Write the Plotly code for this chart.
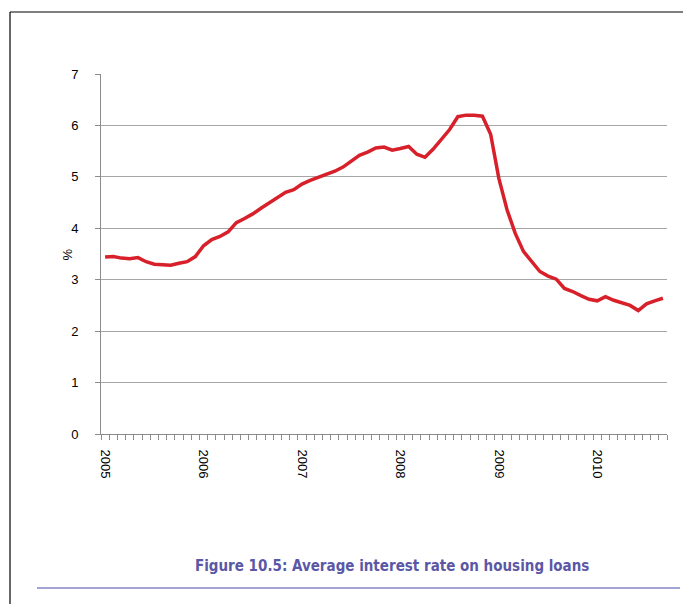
import plotly.graph_objects as go

# monthly average interest rate on housing loans, Jan 2005 - Sep 2010 (%)
months = list(range(69))
rates = [
    3.44, 3.45, 3.42, 3.41, 3.43, 3.35, 3.30, 3.29, 3.28, 3.32, 3.35, 3.45,
    3.66, 3.78, 3.84, 3.93, 4.11, 4.19, 4.28, 4.39, 4.49, 4.60, 4.70, 4.75,
    4.86, 4.93, 4.99, 5.05, 5.11, 5.19, 5.30, 5.42, 5.48, 5.56, 5.58, 5.52,
    5.55, 5.59, 5.44, 5.38, 5.54, 5.72, 5.92, 6.17, 6.20, 6.20, 6.18, 5.83,
    4.97, 4.36, 3.90, 3.55, 3.35, 3.16, 3.07, 3.01, 2.83, 2.77, 2.69, 2.62,
    2.59, 2.67, 2.60, 2.55, 2.50, 2.40, 2.53, 2.59, 2.64,
]
year_pos = [0, 12, 24, 36, 48, 60]
year_labels = ["2005", "2006", "2007", "2008", "2009", "2010"]

# the page puts the figure 8px in from the top-left corner
OFF = 8
W, H = 691 - OFF, 604 - OFF
L, R, T, B = 101 - OFF, 24, 74 - OFF, 170
pw, ph = W - L - R, H - T - B


def px(x):
    # x in window pixels -> paper coordinate
    return (x - OFF - L) / pw


def py(y):
    return (H - B - (y - OFF)) / ph


fig = go.Figure()
fig.add_trace(go.Scatter(
    x=months, y=rates, mode="lines",
    line=dict(color="#d7202a", width=3.5),
    showlegend=False, hoverinfo="skip",
))

fig.update_xaxes(
    range=[-0.5, 68.5],
    tickmode="array", tickvals=year_pos, ticktext=year_labels,
    tickangle=90, ticks="", showgrid=False,
    showline=True, linecolor="#8c8c8c", linewidth=1,
    minor=dict(tickmode="linear", tick0=-0.5, dtick=1, ticks="outside",
               ticklen=5, tickcolor="#8c8c8c", showgrid=False),
    tickfont=dict(family="Liberation Sans, Arial", size=13, color="#000000"),
    ticklabelstandoff=12,
    zeroline=False,
)
fig.update_yaxes(
    range=[0, 7], dtick=1,
    showgrid=True, gridcolor="#a6a6a6", gridwidth=1.2,
    showline=True, linecolor="#8c8c8c", linewidth=1,
    ticks="outside", ticklen=5, tickcolor="#8c8c8c",
    tickfont=dict(family="Liberation Sans, Arial", size=13, color="#000000"),
    ticklabelstandoff=14,
    zeroline=False,
)

shapes = [
    # page frame
    dict(type="line", xref="paper", yref="paper", x0=px(10), x1=px(700),
         y0=py(12), y1=py(12), line=dict(color="#000000", width=1.2)),
    dict(type="line", xref="paper", yref="paper", x0=px(10), x1=px(10),
         y0=py(12), y1=py(610), line=dict(color="#000000", width=1.2)),
    # rule under caption
    dict(type="line", xref="paper", yref="paper", x0=px(37), x1=px(680),
         y0=py(588), y1=py(588), line=dict(color="#8585c8", width=1.5)),
]

annotations = [
    dict(text="%", xref="paper", yref="paper", x=px(57), y=py(255),
         showarrow=False, textangle=-90,
         font=dict(family="Liberation Sans, Arial", size=13, color="#000000")),
    dict(text="<b>Figure 10.5: Average interest rate on housing loans</b>",
         xref="paper", yref="paper", x=px(392), y=py(566),
         showarrow=False, xanchor="center", yanchor="middle",
         font=dict(family="DejaVu Sans Condensed, Liberation Sans Narrow",
                   size=15, color="#5b57a6")),
]

fig.update_layout(
    width=W, height=H,
    margin=dict(l=L, r=R, t=T, b=B),
    paper_bgcolor="#ffffff", plot_bgcolor="#ffffff",
    shapes=shapes, annotations=annotations,
)

fig.write_html("out.html")
